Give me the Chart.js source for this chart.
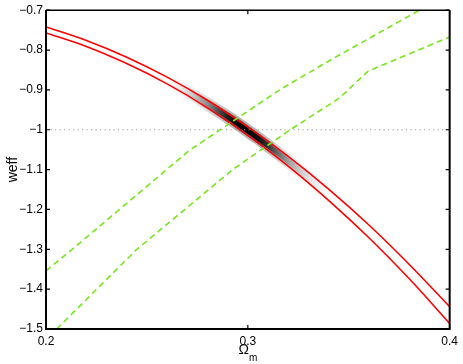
<!DOCTYPE html>
<html>
<head>
<meta charset="utf-8">
<script src="https://cdn.jsdelivr.net/npm/chart.js@4.4.1/dist/chart.umd.min.js"></script>
<style>
  html, body { margin: 0; padding: 0; background: #fff; }
  #wrap { width: 463px; height: 364px; }
</style>
</head>
<body>
<div id="wrap"><canvas id="myChart"></canvas></div>
<script>
// Omega_m grid for the two red bounds
const omegaGrid = [0.20, 0.22, 0.24, 0.26, 0.28, 0.30, 0.32, 0.34, 0.36, 0.38, 0.40];
const wUpper    = [-0.742, -0.776, -0.818, -0.868, -0.926, -0.993, -1.067, -1.149, -1.239, -1.338, -1.444];
const wLower    = [-0.757, -0.791, -0.834, -0.885, -0.945, -1.014, -1.091, -1.177, -1.271, -1.374, -1.486];

// green dashed contours
const greenUpperX = [0.200, 0.213, 0.271, 0.316, 0.342, 0.385];
const greenUpperW = [-1.354, -1.300, -1.052, -0.899, -0.822, -0.700];
const greenLowerX = [0.2053, 0.245, 0.293, 0.321, 0.3455, 0.3596, 0.400];
const greenLowerW = [-1.500, -1.300, -1.098, -1.000, -0.920, -0.853, -0.767];

// grey likelihood band along the red curves
const densX     = [0.262, 0.268, 0.274, 0.280, 0.285, 0.290, 0.295, 0.300, 0.305, 0.310, 0.315, 0.320, 0.326, 0.332, 0.338];
const densW     = [-0.882, -0.899, -0.917, -0.936, -0.952, -0.968, -0.985, -1.003, -1.021, -1.040, -1.059, -1.079, -1.103, -1.128, -1.153];
const densLevel = [0.03, 0.10, 0.25, 0.45, 0.68, 0.88, 0.98, 1.00, 0.95, 0.80, 0.58, 0.38, 0.20, 0.09, 0.03];

// w = -1 reference line
const refX = [0.2, 0.4];
const refW = [-1, -1];

const xTickLabels = ['0.2', '0.3', '0.4'];
const yTickLabels = ['\u22121.5', '\u22121.4', '\u22121.3', '\u22121.2', '\u22121.1', '\u22121', '\u22120.9', '\u22120.8', '\u22120.7'];

const FONT = "'Liberation Sans', Arial, Helvetica, sans-serif";
Chart.defaults.font.family = FONT;
Chart.defaults.color = '#000';

const pts = (xs, ys) => xs.map((x, i) => ({ x: x, y: ys[i] }));

function bandColor(ctx, k) {
    const chart = ctx.chart;
    if (!chart.chartArea) return '#888';
    const xs = chart.scales.x;
    const x0 = xs.getPixelForValue(densX[0]);
    const x1 = xs.getPixelForValue(densX[densX.length - 1]);
    const g = chart.ctx.createLinearGradient(x0, 0, x1, 0);
    densLevel.forEach((v, i) => {
        const t = (xs.getPixelForValue(densX[i]) - x0) / (x1 - x0);
        const c = Math.round(255 - 255 * Math.min(1, v * k));
        g.addColorStop(Math.min(1, Math.max(0, t)), `rgb(${c},${c},${c})`);
    });
    return g;
}

// higher order = drawn underneath
function bandLayer(width, k, order) {
    return {
        data: pts(densX, densW),
        showLine: true, pointRadius: 0, borderWidth: width,
        borderColor: ctx => bandColor(ctx, k),
        borderCapStyle: 'butt', borderJoinStyle: 'round',
        cubicInterpolationMode: 'monotone', order: order
    };
}

// frame, inward ticks and axis titles (Matlab style)
const framePlugin = {
    id: 'frame',
    afterDraw(chart) {
        const c = chart.ctx;
        const { left, right, top, bottom } = chart.chartArea;
        const xs = chart.scales.x, ys = chart.scales.y;
        c.save();
        c.strokeStyle = '#000';
        c.lineWidth = 1.5;
        c.beginPath();
        c.moveTo(left, top); c.lineTo(right, top);
        c.stroke();
        c.lineWidth = 2;
        c.beginPath();
        c.moveTo(left, top); c.lineTo(left, bottom); c.lineTo(right, bottom); c.lineTo(right, top);
        c.stroke();
        c.lineWidth = 1.2;
        c.beginPath();
        ys.ticks.forEach(t => {
            const y = ys.getPixelForValue(t.value);
            c.moveTo(left, y); c.lineTo(left + 4, y);
            c.moveTo(right, y); c.lineTo(right - 4, y);
        });
        xs.ticks.forEach(t => {
            const x = xs.getPixelForValue(t.value);
            c.moveTo(x, bottom); c.lineTo(x, bottom - 4);
            c.moveTo(x, top); c.lineTo(x, top + 4);
        });
        c.stroke();

        c.fillStyle = '#000';
        // y title
        c.save();
        c.translate(13, (top + bottom) / 2);
        c.rotate(-Math.PI / 2);
        c.font = '14px ' + FONT;
        c.textAlign = 'center';
        c.textBaseline = 'middle';
        c.fillText('weff', 0, 0);
        c.restore();
        // x title: Omega with subscript m
        const cx = (left + right) / 2;
        c.font = '14px ' + FONT;
        c.textAlign = 'left';
        c.textBaseline = 'alphabetic';
        const wO = c.measureText('\u03A9').width;
        c.font = '10px ' + FONT;
        const wM = c.measureText('m').width;
        const sx = cx - (wO + wM) / 2;
        c.font = '14px ' + FONT;
        c.fillText('\u03A9', sx, 354);
        c.font = '10px ' + FONT;
        c.fillText('m', sx + wO, 361);
        c.restore();
    }
};

const ctx = document.getElementById('myChart').getContext('2d');
const chart = new Chart(ctx, {
    type: 'scatter',
    data: {
        datasets: [
            bandLayer(13, 0.3, 12),
            bandLayer(9, 0.65, 11),
            bandLayer(5, 1.0, 10),
            { data: pts(refX, refW), showLine: true, pointRadius: 0, borderWidth: 1,
              borderColor: '#9a9a9a', borderDash: [1.2, 3.3], order: 5 },
            { data: pts(omegaGrid, wUpper), showLine: true, pointRadius: 0, borderWidth: 1.6,
              borderColor: '#ff0000', cubicInterpolationMode: 'monotone', order: 3 },
            { data: pts(omegaGrid, wLower), showLine: true, pointRadius: 0, borderWidth: 1.6,
              borderColor: '#ff0000', cubicInterpolationMode: 'monotone', order: 3 },
            { data: pts(greenUpperX, greenUpperW), showLine: true, pointRadius: 0, borderWidth: 1.6,
              borderColor: 'rgb(120,230,30)', borderDash: [6, 4], order: 1 },
            { data: pts(greenLowerX, greenLowerW), showLine: true, pointRadius: 0, borderWidth: 1.6,
              borderColor: 'rgb(120,230,30)', borderDash: [6, 4], order: 1 }
        ]
    },
    options: {
        responsive: true,
        maintainAspectRatio: false,
        animation: false,
        layout: { padding: { top: 10, right: 13, left: 0, bottom: 0 } },
        plugins: { legend: { display: false }, tooltip: { enabled: false } },
        scales: {
            x: {
                type: 'linear', min: 0.2, max: 0.4,
                grid: { display: false, drawTicks: false },
                border: { display: false },
                ticks: {
                    stepSize: 0.1, maxRotation: 0, padding: 5,
                    font: { size: 12 }, color: '#000',
                    callback: (v, i) => xTickLabels[i]
                },
                afterFit: s => { s.height = 35; }
            },
            y: {
                type: 'linear', min: -1.5, max: -0.7,
                grid: { display: false, drawTicks: false },
                border: { display: false },
                ticks: {
                    stepSize: 0.1, padding: 3,
                    font: { size: 12 }, color: '#000',
                    callback: (v, i) => yTickLabels[i]
                },
                afterFit: s => { s.width = 46; }
            }
        }
    },
    plugins: [framePlugin]
});
</script>
</body>
</html>
